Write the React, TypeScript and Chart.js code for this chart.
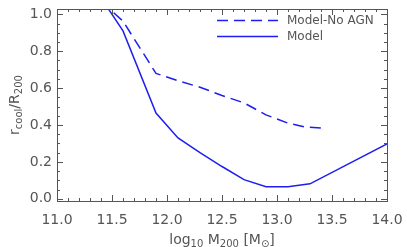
import React, { useEffect, useRef } from "react";
import { Chart, registerables } from "chart.js";

Chart.register(...registerables);

// ---- data ----
const modelX = [11.4, 11.6, 11.9, 12.1, 12.3, 12.5, 12.7, 12.9, 13.1, 13.3, 14.0];
const modelY = [1.09, 0.91, 0.465, 0.33, 0.25, 0.175, 0.104, 0.065, 0.065, 0.081, 0.297];
const noAgnX = [11.4, 11.6, 11.9, 12.1, 12.3, 12.5, 12.7, 12.9, 13.1, 13.25, 13.4];
const noAgnY = [1.07, 0.963, 0.68, 0.64, 0.605, 0.56, 0.52, 0.455, 0.41, 0.39, 0.384];
const xTickValues = [11.0, 11.5, 12.0, 12.5, 13.0, 13.5, 14.0];
const yTickValues = [0.0, 0.2, 0.4, 0.6, 0.8, 1.0];
const seriesLabels = ["Model-No AGN", "Model"];

const AXIS = "#555555";
const TEXT = "#555555";
const BLUE = "rgb(30,30,240)";
const FONT = "DejaVu Sans";

const framePlugin = {
  id: "idlFrame",
  afterDraw(chart: any) {
    const { ctx, chartArea: a, scales } = chart;
    const xs = scales.x;
    const ys = scales.y;
    ctx.save();
    ctx.strokeStyle = AXIS;
    ctx.lineWidth = 1;
    ctx.strokeRect(Math.round(a.left) + 0.5, Math.round(a.top) + 0.5, Math.round(a.right - a.left), Math.round(a.bottom - a.top));
    ctx.beginPath();
    // x ticks (minor 0.1, major 0.5)
    for (let i = 0; i <= 30; i++) {
      const v = 11 + i * 0.1;
      const px = Math.round(xs.getPixelForValue(v)) + 0.5;
      const len = i % 5 === 0 ? 6 : 3;
      ctx.moveTo(px, a.bottom);
      ctx.lineTo(px, a.bottom - len);
      ctx.moveTo(px, a.top);
      ctx.lineTo(px, a.top + len);
    }
    // y ticks (minor 0.05, major 0.2)
    for (let i = 0; i <= 20; i++) {
      const v = i * 0.05;
      const py = Math.round(ys.getPixelForValue(v)) + 0.5;
      const len = i % 4 === 0 ? 6 : 3;
      ctx.moveTo(a.left, py);
      ctx.lineTo(a.left + len, py);
      ctx.moveTo(a.right, py);
      ctx.lineTo(a.right - len, py);
    }
    ctx.stroke();

    // legend
    const lx0 = 217, lx1 = 278, tx = 287;
    const rows = [20.5, 36.5];
    chart.data.datasets.forEach((ds: any, i: number) => {
      const y = rows[i];
      ctx.strokeStyle = ds.borderColor;
      ctx.lineWidth = ds.borderWidth;
      ctx.setLineDash(ds.borderDash || []);
      ctx.beginPath();
      ctx.moveTo(lx0, y);
      ctx.lineTo(lx1, y);
      ctx.stroke();
      ctx.setLineDash([]);
      ctx.fillStyle = TEXT;
      ctx.font = `12px "${FONT}"`;
      ctx.textBaseline = "middle";
      ctx.textAlign = "left";
      ctx.fillText(ds.label, tx, y);
    });

    // axis titles with subscripts
    const drawPieces = (pieces: [string, boolean][], cx: number, baseline: number) => {
      const widths = pieces.map(([t, sub]) => {
        ctx.font = `${sub ? 10 : 14}px "${FONT}"`;
        return ctx.measureText(t).width;
      });
      const total = widths.reduce((s, w) => s + w, 0);
      let x = cx - total / 2;
      ctx.textAlign = "left";
      ctx.textBaseline = "alphabetic";
      ctx.fillStyle = TEXT;
      pieces.forEach(([t, sub], i) => {
        ctx.font = `${sub ? 10 : 14}px "${FONT}"`;
        ctx.fillText(t, x, baseline + (sub ? 3 : 0));
        x += widths[i];
      });
    };
    const cx = (a.left + a.right) / 2;
    drawPieces(
      [["log", false], ["10", true], [" M", false], ["200", true], [" [M", false], ["⊙", true], ["]", false]],
      cx,
      244
    );
    ctx.save();
    ctx.translate(19, (a.top + a.bottom) / 2);
    ctx.rotate(-Math.PI / 2);
    drawPieces([["r", false], ["cool", true], ["/R", false], ["200", true]], 0, 0);
    ctx.restore();
    ctx.restore();
  },
};

export default function App() {
  const ref = useRef<HTMLCanvasElement | null>(null);
  useEffect(() => {
    document.body.style.margin = "0";
    const c = ref.current!;
    const chart = new Chart(c, {
      type: "line",
      data: {
        datasets: [
          {
            label: seriesLabels[0],
            data: noAgnX.map((x, i) => ({ x, y: noAgnY[i] })),
            borderColor: BLUE,
            borderWidth: 1.5,
            borderDash: [11, 6],
            pointRadius: 0,
            fill: false,
            tension: 0,
          },
          {
            label: seriesLabels[1],
            data: modelX.map((x, i) => ({ x, y: modelY[i] })),
            borderColor: BLUE,
            borderWidth: 1.5,
            pointRadius: 0,
            fill: false,
            tension: 0,
          },
        ],
      },
      options: {
        animation: false,
        responsive: true,
        maintainAspectRatio: false,
        layout: { padding: { top: 9, right: 20, left: 0, bottom: 0 } },
        plugins: { legend: { display: false }, tooltip: { enabled: false } },
        scales: {
          x: {
            type: "linear",
            min: 11,
            max: 14,
            afterBuildTicks: (s: any) => {
              s.ticks = xTickValues.map((v) => ({ value: v }));
            },
            afterFit: (s: any) => {
              s.height = 46;
              s.paddingLeft = 0;
              s.paddingRight = 0;
              s.paddingTop = 0;
              s.paddingBottom = 0;
            },
            grid: { display: false, drawTicks: false },
            border: { display: false },
            ticks: {
              autoSkip: false,
              maxRotation: 0,
              padding: 11,
              color: TEXT,
              font: { family: FONT, size: 14 },
              callback: (v: any) => Number(v).toFixed(1),
            },
          },
          y: {
            type: "linear",
            min: -0.012,
            max: 1.029,
            afterBuildTicks: (s: any) => {
              s.ticks = yTickValues.map((v) => ({ value: v }));
            },
            afterFit: (s: any) => {
              s.width = 57;
              s.paddingLeft = 0;
              s.paddingRight = 0;
              s.paddingTop = 0;
              s.paddingBottom = 0;
            },
            grid: { display: false, drawTicks: false },
            border: { display: false },
            ticks: {
              padding: 5,
              color: TEXT,
              font: { family: FONT, size: 14 },
              callback: (v: any) => Number(v).toFixed(1),
            },
          },
        },
      },
      plugins: [framePlugin],
    } as any);
    return () => chart.destroy();
  }, []);
  return (
    <div style={{ position: "fixed", left: 0, top: 0, width: 407, height: 247 }}>
      <canvas ref={ref} />
    </div>
  );
}
